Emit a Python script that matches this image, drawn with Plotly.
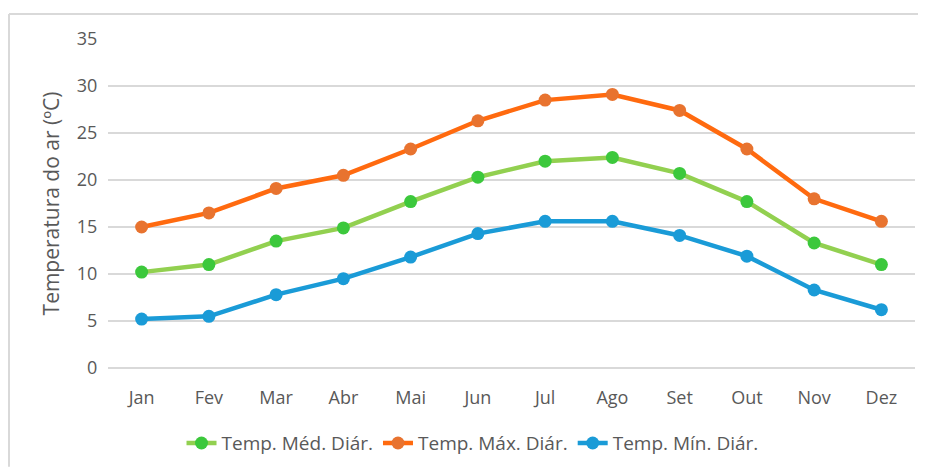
import plotly.graph_objects as go

months = ["Jan", "Fev", "Mar", "Abr", "Mai", "Jun", "Jul", "Ago", "Set", "Out", "Nov", "Dez"]
temp_med = [10.2, 11.0, 13.5, 14.9, 17.7, 20.3, 22.0, 22.4, 20.7, 17.7, 13.3, 11.0]
temp_max = [15.0, 16.5, 19.1, 20.5, 23.3, 26.3, 28.5, 29.1, 27.4, 23.3, 18.0, 15.6]
temp_min = [5.2, 5.5, 7.8, 9.5, 11.8, 14.3, 15.6, 15.6, 14.1, 11.9, 8.3, 6.2]
y_ticks = [0, 5, 10, 15, 20, 25, 30, 35]

series = [
    ("Temp. Méd. Diár.", temp_med, "#92D050", "#3CC83C"),
    ("Temp. Máx. Diár.", temp_max, "#FF6A0F", "#E8732F"),
    ("Temp. Mín. Diár.", temp_min, "#1A9BD7", "#1A9BD7"),
]

fig = go.Figure()
for name, vals, lc, mc in series:
    fig.add_trace(go.Scatter(
        x=months, y=vals, name=name, mode="lines+markers",
        line=dict(color=lc, width=4.5),
        marker=dict(color=mc, size=13, line=dict(width=0)),
    ))

font_family = "Open Sans, Noto Sans, sans-serif"
fig.update_layout(
    width=918, height=460,
    margin=dict(l=100, r=11, t=31, b=100),
    paper_bgcolor="white", plot_bgcolor="white",
    font=dict(family=font_family, size=18, color="#595959"),
    showlegend=True,
    legend=dict(orientation="h", xref="container", yref="container",
                x=0.506, xanchor="center", y=0.054, yanchor="middle",
                font=dict(size=19, color="#595959"), itemwidth=30, tracegroupgap=0),
    xaxis=dict(range=[-0.5, 11.5], showgrid=False, zeroline=False, showline=False,
               ticks="outside", ticklen=13, tickcolor="rgba(0,0,0,0)",
               tickfont=dict(size=18, color="#595959")),
    yaxis=dict(range=[0, 35], tickvals=y_ticks, showgrid=True, gridcolor="#D9D9D9", gridwidth=2,
               zeroline=True, zerolinecolor="#D9D9D9", zerolinewidth=2, showline=False,
               ticks="outside", ticklen=6, tickcolor="rgba(0,0,0,0)",
               tickfont=dict(size=18, color="#595959"),
               title=dict(text="Temperatura do ar (ºC)", font=dict(size=21, color="#595959"), standoff=11)),
    shapes=[
        dict(type="line", xref="paper", yref="paper", x0=-0.1227, x1=1.02, y0=1.076, y1=1.076,
             line=dict(color="#D9D9D9", width=2)),
        dict(type="line", xref="paper", yref="paper", x0=-0.1227, x1=-0.1227, y0=1.076, y1=-0.30,
             line=dict(color="#D9D9D9", width=2)),
    ],
)

fig.write_html("out.html")
